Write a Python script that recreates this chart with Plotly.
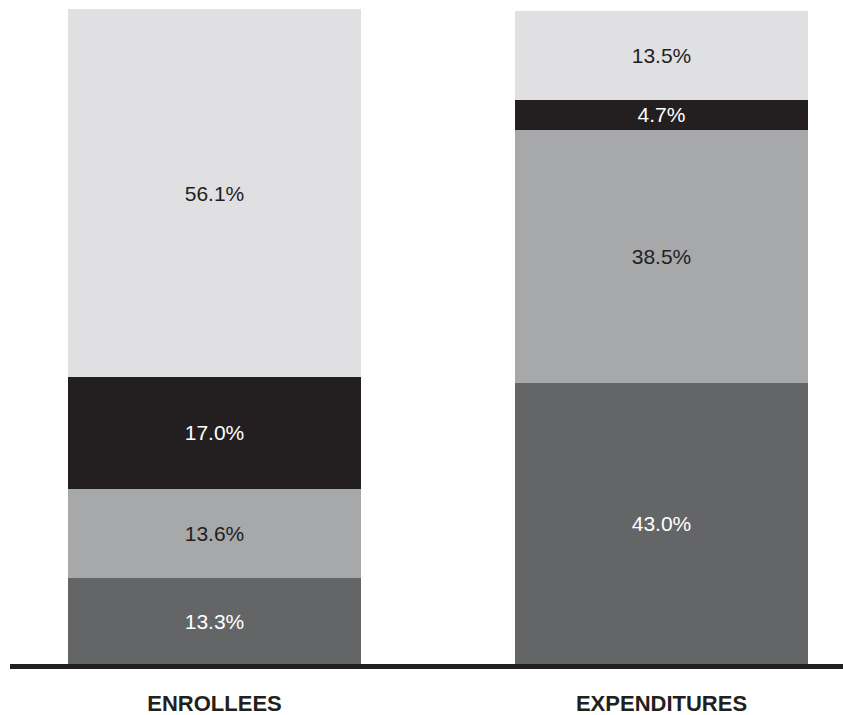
import plotly.graph_objects as go

categories = ["ENROLLEES", "EXPENDITURES"]

# Stacked segments, bottom to top
seg_bottom = [13.3, 43.0]
seg_second = [13.6, 38.5]
seg_third = [17.0, 4.7]
seg_top = [56.1, 13.5]

series = [
    (seg_bottom, "#646567", "#ffffff"),
    (seg_second, "#a7a8aa", "#231f20"),
    (seg_third, "#231f20", "#ffffff"),
    (seg_top, "#e0e0e2", "#231f20"),
]

fig = go.Figure()
for values, fill, txt in series:
    fig.add_trace(go.Bar(
        x=categories,
        y=values,
        marker=dict(color=fill, line=dict(width=0)),
        text=[f"{v:.1f}%" for v in values],
        textposition="inside",
        insidetextanchor="middle",
        textangle=0,
        textfont=dict(family="Liberation Sans, Arial, sans-serif", size=21, color=txt),
        width=0.655,
        hoverinfo="skip",
    ))

fig.update_layout(
    barmode="stack",
    width=843,
    height=715,
    margin=dict(l=10, r=0, t=9, b=50),
    paper_bgcolor="white",
    plot_bgcolor="white",
    showlegend=False,
    uniformtext=dict(minsize=10, mode="show"),
    xaxis=dict(
        range=[-0.4575, 1.406],
        showgrid=False,
        zeroline=False,
        showline=False,
        ticks="",
        ticklabelstandoff=23,
        tickfont=dict(family="Liberation Sans Narrow, Arial Narrow, Liberation Sans, sans-serif",
                      size=22, color="#231f20", weight="bold"),
    ),
    yaxis=dict(
        range=[0, 100],
        showgrid=False,
        zeroline=False,
        showline=False,
        showticklabels=False,
        ticks="",
    ),
)

# Baseline rule across the chart
fig.add_shape(
    type="line", xref="paper", yref="paper",
    x0=0, x1=1, y0=-0.0023, y1=-0.0023,
    line=dict(color="#231f20", width=5),
    layer="above",
)

fig.write_html("out.html")
